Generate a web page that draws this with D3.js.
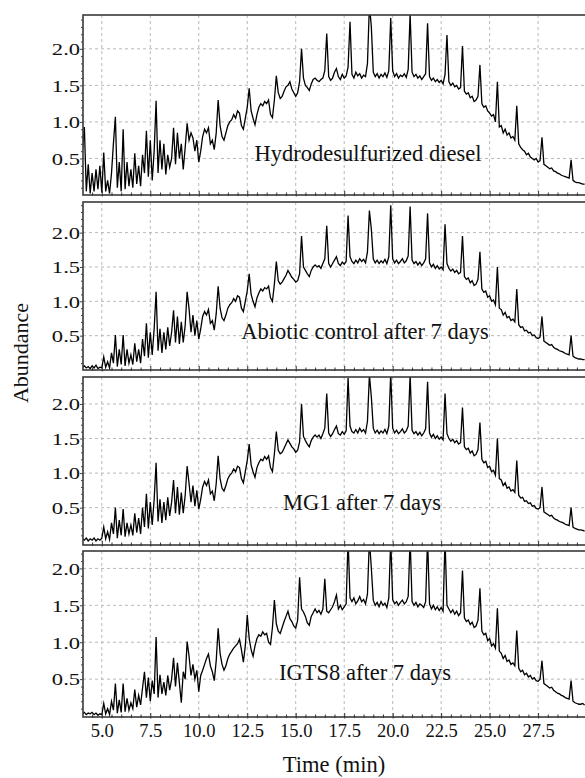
<!DOCTYPE html>
<html><head><meta charset="utf-8">
<script src="https://cdn.jsdelivr.net/npm/d3@7"></script>
<style>body{margin:0;background:#fff}svg{display:block}text{font-family:'Liberation Serif','Times New Roman',serif}</style>
</head><body>
<svg id="chart" width="585" height="778"></svg>
<script>
// ---- DATA ----
const startTime = 4.0;      // first sample (min)
const sampleStep = 0.1;     // sampling interval (min)
const xTicks = [5.0, 7.5, 10.0, 12.5, 15.0, 17.5, 20.0, 22.5, 25.0, 27.5];
const yTicks = [0.5, 1.0, 1.5, 2.0];
const panelLabels = ["Hydrodesulfurized diesel", "Abiotic control after 7 days", "MG1 after 7 days", "IGTS8 after 7 days"];
const xTitle = "Time (min)";
const yTitle = "Abundance";

const diesel = [
 0.60,0.93,0.05,0.42,0.02,0.30,0.05,0.35,0.08,0.40,
 0.03,0.58,0.05,0.20,0.02,0.30,0.71,1.07,0.10,0.45,
 0.05,0.90,0.08,0.45,0.12,0.35,0.10,0.57,0.15,0.40,
 0.12,0.55,0.30,0.88,0.25,0.75,0.20,0.60,1.29,0.30,
 0.75,0.35,0.70,0.28,0.55,0.38,0.50,0.92,0.42,0.85,
 0.50,0.70,0.35,0.65,0.98,0.75,0.85,0.78,0.60,0.75,
 0.45,0.60,0.80,0.90,0.85,0.92,0.70,0.75,0.62,0.85,
 1.30,0.95,0.80,0.75,0.85,0.95,1.00,1.03,1.10,1.05,
 1.15,1.12,0.95,0.90,1.05,1.20,1.46,1.15,1.05,0.96,
 1.10,1.20,1.25,1.22,1.28,1.25,1.30,1.10,1.06,1.30,
 1.63,1.40,1.32,1.35,1.42,1.48,1.50,1.55,1.45,1.40,
 1.35,1.40,1.55,2.00,1.60,1.50,1.47,1.43,1.52,1.58,
 1.60,1.57,1.55,1.58,1.60,1.70,2.21,1.62,1.57,1.60,
 1.68,1.73,1.62,1.58,1.65,1.60,1.63,1.75,2.37,1.65,
 1.60,1.68,1.63,1.66,1.60,1.64,1.62,1.80,2.60,2.30,
 1.68,1.62,1.66,1.60,1.65,1.62,1.67,1.61,1.70,2.42,
 1.70,1.62,1.66,1.60,1.64,1.62,1.66,1.61,1.72,2.48,
 1.68,1.62,1.65,1.60,1.63,1.58,1.62,1.66,2.35,1.62,
 1.57,1.60,1.55,1.58,1.54,1.57,1.52,1.65,2.19,1.55,
 1.50,1.53,1.48,1.50,1.45,1.47,2.04,1.42,1.38,1.40,
 1.33,1.35,1.28,1.30,1.35,1.78,1.25,1.20,1.22,1.15,
 1.12,1.08,1.10,1.00,1.55,0.93,0.95,0.85,0.90,0.82,
 0.85,0.78,0.80,0.75,1.22,0.70,0.65,0.62,0.60,0.55,
 0.57,0.52,0.50,0.48,0.50,0.45,0.47,0.79,0.42,0.40,
 0.38,0.36,0.37,0.33,0.32,0.30,0.29,0.27,0.26,0.25,
 0.24,0.23,0.48,0.20,0.18,0.17,0.17,0.16,0.15,0.15
];
const abiotic = [
 0.04,0.06,0.03,0.05,0.02,0.06,0.03,0.07,0.02,0.04,
 0.03,0.19,0.04,0.12,0.03,0.25,0.10,0.51,0.05,0.30,
 0.08,0.51,0.06,0.30,0.10,0.22,0.08,0.39,0.12,0.30,
 0.10,0.45,0.20,0.68,0.18,0.55,0.22,0.60,1.14,0.28,
 0.60,0.25,0.55,0.30,0.62,0.35,0.55,0.87,0.40,0.78,
 0.38,0.70,0.40,0.65,1.14,0.89,0.55,0.80,0.50,0.72,
 0.45,0.60,0.78,0.85,0.80,0.88,0.68,0.72,0.58,0.82,
 1.22,0.90,0.76,0.72,0.80,0.90,0.95,0.98,1.04,1.00,
 1.08,1.06,0.90,0.85,1.00,1.15,1.40,1.10,1.00,0.92,
 1.05,1.12,1.18,1.15,1.20,1.18,1.22,1.05,1.00,1.25,
 1.58,1.30,1.25,1.28,1.33,1.38,1.45,1.40,1.35,1.32,
 1.28,1.30,1.40,1.95,1.50,1.45,1.40,1.36,1.45,1.50,
 1.53,1.50,1.52,1.48,1.55,1.62,2.10,1.55,1.50,1.55,
 1.60,1.65,1.55,1.52,1.57,1.54,1.58,2.25,1.65,1.58,
 1.55,1.60,1.56,1.62,1.58,1.61,1.56,1.72,2.32,2.05,
 1.62,1.56,1.60,1.55,1.59,1.56,1.61,1.55,1.65,2.40,
 1.62,1.56,1.60,1.55,1.58,1.62,1.56,1.59,1.66,2.38,
 1.60,1.55,1.58,1.53,1.57,1.52,1.56,1.62,2.28,1.56,
 1.50,1.54,1.48,1.52,1.47,1.50,1.46,2.12,1.55,1.48,
 1.44,1.47,1.42,1.45,1.40,1.42,1.95,1.36,1.32,1.34,
 1.27,1.30,1.23,1.25,1.32,1.72,1.18,1.13,1.15,1.06,
 1.08,1.00,1.02,0.95,1.50,0.90,0.88,0.80,0.84,0.76,
 0.78,0.72,0.74,0.70,1.18,0.66,0.62,0.63,0.57,0.58,
 0.54,0.55,0.50,0.51,0.47,0.46,0.48,0.78,0.42,0.40,
 0.38,0.36,0.37,0.33,0.31,0.30,0.28,0.27,0.26,0.24,
 0.23,0.22,0.50,0.20,0.18,0.17,0.16,0.16,0.15,0.15
];
const mg1 = [
 0.05,0.03,0.06,0.02,0.05,0.03,0.06,0.02,0.05,0.03,
 0.06,0.22,0.05,0.15,0.04,0.28,0.12,0.50,0.06,0.32,
 0.10,0.48,0.08,0.28,0.12,0.25,0.10,0.42,0.14,0.35,
 0.12,0.50,0.22,0.70,0.20,0.58,0.25,0.62,1.15,0.30,
 0.62,0.28,0.58,0.32,0.65,0.38,0.58,0.90,0.42,0.80,
 0.40,0.72,0.42,0.68,1.10,0.85,0.58,0.82,0.52,0.75,
 0.48,0.62,0.80,0.88,0.82,0.90,0.70,0.74,0.60,0.85,
 1.25,0.92,0.78,0.74,0.82,0.92,0.97,1.00,1.06,1.02,
 1.10,1.08,0.92,0.86,1.02,1.18,1.42,1.12,1.02,0.94,
 1.08,1.15,1.20,1.18,1.24,1.20,1.25,1.08,1.02,1.28,
 1.60,1.33,1.28,1.30,1.36,1.42,1.48,1.43,1.38,1.35,
 1.30,1.33,1.45,2.00,1.53,1.47,1.42,1.38,1.47,1.52,
 1.55,1.52,1.55,1.50,1.57,1.65,2.15,1.58,1.53,1.57,
 1.63,1.68,1.57,1.55,1.60,1.56,1.61,2.38,1.68,1.60,
 1.58,1.63,1.58,1.65,1.60,1.63,1.58,1.75,2.42,2.10,
 1.65,1.58,1.62,1.57,1.61,1.58,1.63,1.57,1.68,2.45,
 1.65,1.58,1.62,1.57,1.60,1.64,1.58,1.61,1.68,2.42,
 1.62,1.57,1.60,1.55,1.59,1.54,1.58,1.64,2.32,1.58,
 1.52,1.56,1.50,1.54,1.49,1.52,1.48,2.15,1.57,1.50,
 1.46,1.49,1.44,1.47,1.42,1.44,1.95,1.38,1.34,1.36,
 1.29,1.32,1.25,1.27,1.34,1.73,1.20,1.15,1.17,1.08,
 1.10,1.02,1.04,0.97,1.50,0.92,0.90,0.82,0.86,0.78,
 0.80,0.74,0.76,0.72,1.18,0.68,0.64,0.65,0.59,0.60,
 0.56,0.57,0.52,0.53,0.49,0.48,0.50,0.80,0.44,0.42,
 0.40,0.38,0.39,0.35,0.33,0.32,0.30,0.29,0.28,0.26,
 0.25,0.24,0.50,0.22,0.20,0.19,0.18,0.18,0.17,0.16
];
const igts8 = [
 0.03,0.05,0.02,0.04,0.03,0.05,0.02,0.04,0.01,0.03,
 0.02,0.17,0.03,0.10,0.02,0.20,0.08,0.44,0.04,0.22,
 0.05,0.44,0.06,0.24,0.08,0.18,0.10,0.36,0.12,0.28,
 0.15,0.38,0.60,0.25,0.52,0.20,0.48,0.30,1.07,0.25,
 0.56,0.30,0.46,0.28,0.55,0.35,0.50,0.79,0.40,0.72,
 0.45,0.18,0.60,0.50,1.01,0.81,0.55,0.70,0.50,0.62,
 0.33,0.55,0.62,0.70,0.78,0.84,0.68,0.60,0.48,0.75,
 1.19,0.85,0.70,0.62,0.68,0.78,0.84,0.88,0.92,0.95,
 0.98,1.04,0.90,0.73,0.95,1.37,1.05,0.90,0.81,0.95,
 1.05,1.10,1.08,1.14,1.10,1.12,1.00,0.97,1.20,1.57,
 1.25,1.15,1.12,1.20,1.28,1.35,1.42,1.32,1.28,1.22,
 1.19,1.30,1.88,1.45,1.41,1.35,1.26,1.23,1.35,1.40,
 1.45,1.40,1.43,1.38,1.45,1.86,1.42,1.40,1.44,1.48,
 1.55,1.64,1.45,1.50,1.44,1.48,1.52,2.40,1.60,1.55,
 1.60,1.52,1.56,1.62,1.55,1.58,1.52,1.65,2.40,2.00,
 1.57,1.50,1.54,1.48,1.55,1.50,1.53,1.47,1.60,2.40,
 1.58,1.52,1.55,1.50,1.54,1.57,1.52,1.55,1.62,2.40,
 1.55,1.50,1.54,1.48,1.52,1.50,1.47,1.55,2.40,1.52,
 1.45,1.50,1.44,1.48,1.43,1.47,1.42,2.40,1.50,1.45,
 1.40,1.44,1.38,1.42,1.36,1.40,1.97,1.33,1.28,1.30,
 1.24,1.27,1.20,1.22,1.30,1.73,1.15,1.10,1.12,1.02,
 1.05,0.95,0.98,0.92,1.46,0.88,0.85,0.78,0.82,0.74,
 0.76,0.70,0.72,0.68,1.16,0.65,0.60,0.62,0.56,0.58,
 0.53,0.55,0.50,0.52,0.48,0.47,0.50,0.75,0.44,0.42,
 0.40,0.38,0.39,0.35,0.33,0.31,0.30,0.28,0.27,0.25,
 0.24,0.23,0.48,0.20,0.18,0.17,0.16,0.16,0.17,0.15
];

// ---- LAYOUT ----
const plotLeft = 83, plotRight = 586;
const panels = [
  {values: diesel,  label: panelLabels[0], bottom: 195, top: 15,  vMin: 0,      vMax: 2.463, lx: 368, ly: 161},
  {values: abiotic, label: panelLabels[1], bottom: 370, top: 202, vMin: 0,      vMax: 2.446, lx: 365, ly: 339},
  {values: mg1,     label: panelLabels[2], bottom: 545, top: 377, vMin: -0.04,  vMax: 2.39,  lx: 362, ly: 510},
  {values: igts8,   label: panelLabels[3], bottom: 717, top: 551, vMin: -0.013, vMax: 2.236, lx: 365, ly: 680}
];
const serif = "'Liberation Serif','Times New Roman',serif";

const svg = d3.select("#chart");
const x = d3.scaleLinear().domain([4.03, 29.97]).range([plotLeft, plotRight]);
const minorX = d3.range(4.5, 30, 0.5).filter(v => !xTicks.includes(v));

panels.forEach((p, i) => {
  const y = d3.scaleLinear().domain([p.vMin, p.vMax]).range([p.bottom, p.top]);
  const g = svg.append("g");
  const clipId = "clip" + i;
  svg.append("clipPath").attr("id", clipId).append("rect")
    .attr("x", plotLeft).attr("y", p.top).attr("width", plotRight - plotLeft).attr("height", p.bottom - p.top);

  // grid
  g.append("g").selectAll("line").data(xTicks).join("line")
    .attr("x1", d => x(d)).attr("x2", d => x(d)).attr("y1", p.top).attr("y2", p.bottom)
    .attr("stroke", "#b8b8b8").attr("stroke-dasharray", "3,3").attr("stroke-width", 1);
  g.append("g").selectAll("line").data(yTicks).join("line")
    .attr("x1", plotLeft).attr("x2", plotRight).attr("y1", d => y(d)).attr("y2", d => y(d))
    .attr("stroke", "#b8b8b8").attr("stroke-dasharray", "3,3").attr("stroke-width", 1);

  // chromatogram
  const line = d3.line().x((d, j) => x(startTime + j * sampleStep)).y(d => y(d));
  g.append("path").datum(p.values).attr("clip-path", `url(#${clipId})`)
    .attr("d", line).attr("fill", "none").attr("stroke", "#000").attr("stroke-width", 1.3)
    .attr("stroke-linejoin", "miter").attr("stroke-miterlimit", 6);

  // frame
  g.append("rect").attr("x", plotLeft).attr("y", p.top)
    .attr("width", plotRight - plotLeft + 3).attr("height", p.bottom - p.top)
    .attr("fill", "none").attr("stroke", "#3a3a3a").attr("stroke-width", 1.6);

  // x ticks
  const axMinor = g.append("g").attr("transform", `translate(0,${p.bottom})`)
    .call(d3.axisBottom(x).tickValues(minorX).tickSize(-2.5).tickFormat(""));
  axMinor.select(".domain").remove();
  axMinor.selectAll("line").attr("y1", 1).attr("stroke", "#333");
  const axMajor = g.append("g").attr("transform", `translate(0,${p.bottom})`)
    .call(d3.axisBottom(x).tickValues(xTicks).tickSize(-4).tickFormat(i === 3 ? d3.format(".1f") : ""));
  axMajor.select(".domain").remove();
  axMajor.selectAll("line").attr("y1", 1.5).attr("stroke", "#333");
  axMajor.selectAll("text").attr("y", 20).attr("dy", 0)
    .style("font-family", serif).style("font-size", "18.5px").attr("fill", "#111");

  // y ticks
  const minorY = d3.range(0.1, p.vMax, 0.1).filter(v => Math.abs(v * 2 - Math.round(v * 2)) > 1e-6);
  const ayMinor = g.append("g").attr("transform", `translate(${plotLeft},0)`)
    .call(d3.axisLeft(y).tickValues(minorY).tickSize(2).tickFormat(""));
  ayMinor.select(".domain").remove();
  ayMinor.selectAll("line").attr("stroke", "#444");
  const ayMajor = g.append("g").attr("transform", `translate(${plotLeft},0)`)
    .call(d3.axisLeft(y).tickValues(yTicks).tickSize(3).tickFormat(d3.format(".1f")));
  ayMajor.select(".domain").remove();
  ayMajor.selectAll("line").attr("stroke", "#444");
  ayMajor.selectAll("text").attr("x", -2.2).attr("dy", "0.34em")
    .attr("transform", "scale(1.33,1)")
    .style("font-family", serif).style("font-size", "17px").attr("fill", "#111");

  // panel label
  g.append("text").attr("x", p.lx).attr("y", p.ly).attr("text-anchor", "middle")
    .style("font-family", serif).style("font-size", "22.5px").attr("fill", "#111").text(p.label);
});

// axis titles
svg.append("text").attr("x", 334).attr("y", 772).attr("text-anchor", "middle")
  .style("font-family", serif).style("font-size", "22.5px").attr("fill", "#111").text(xTitle);
svg.append("text").attr("transform", "translate(28,353) rotate(-90)").attr("text-anchor", "middle")
  .style("font-family", serif).style("font-size", "22px").attr("fill", "#111").text(yTitle);
</script>
</body></html>
